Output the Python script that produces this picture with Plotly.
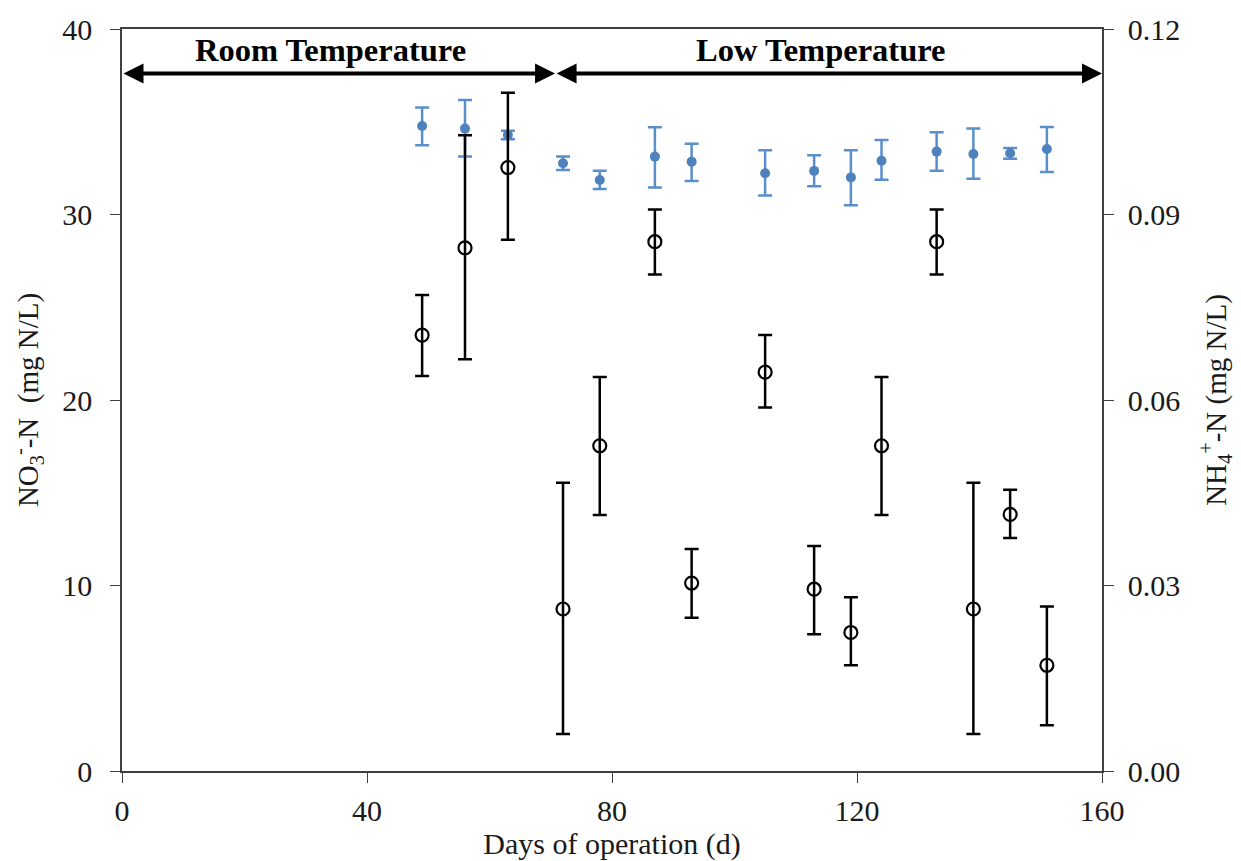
import plotly.graph_objects as go

days = [49, 56, 63, 72, 78, 87, 93, 105, 113, 119, 124, 133, 139, 145, 151]

no3 = [34.77, 34.63, 34.29, 32.76, 31.86, 33.12, 32.85, 32.22, 32.35, 32.0, 32.9, 33.39, 33.26, 33.3, 33.53]
no3_err_plus = [1.0, 1.54, 0.22, 0.36, 0.5, 1.58, 0.97, 1.24, 0.84, 1.46, 1.12, 1.04, 1.37, 0.28, 1.19]
no3_err_minus = [1.04, 1.51, 0.24, 0.36, 0.49, 1.67, 1.04, 1.19, 0.83, 1.5, 1.02, 1.03, 1.33, 0.3, 1.24]

nh4 = [0.0705, 0.0846, 0.0976, 0.0262, 0.0526, 0.0856, 0.0304, 0.0645, 0.0294, 0.0224, 0.0526, 0.0856, 0.0262, 0.0415, 0.0171]
nh4_top = [0.0770, 0.1028, 0.1097, 0.0466, 0.0637, 0.0908, 0.0359, 0.0705, 0.0364, 0.0281, 0.0637, 0.0908, 0.0466, 0.0455, 0.0266]
nh4_bot = [0.0639, 0.0666, 0.0859, 0.0060, 0.0414, 0.0803, 0.0248, 0.0588, 0.0221, 0.0171, 0.0414, 0.0803, 0.0060, 0.0377, 0.0074]

x_ticks = [0, 40, 80, 120, 160]
y1_ticks = [0, 10, 20, 30, 40]
y2_ticks = [0.0, 0.03, 0.06, 0.09, 0.12]
y2_labels = ["0.00", "0.03", "0.06", "0.09", "0.12"]

phase_labels = ["Room Temperature", "Low Temperature"]
phase_bounds = [0, 70.7, 160]
arrow_y = 37.6

FONT = "Liberation Serif"
AX = "#404040"

fig = go.Figure()

fig.add_trace(go.Scatter(
    x=days, y=no3, mode="markers", yaxis="y",
    marker=dict(symbol="circle", size=10, color="#4F81BD"),
    error_y=dict(type="data", symmetric=False, array=no3_err_plus, arrayminus=no3_err_minus,
                 color="#5B8FCC", thickness=2.5, width=7),
    showlegend=False,
))

fig.add_trace(go.Scatter(
    x=days, y=nh4, mode="markers", yaxis="y2",
    marker=dict(symbol="circle-open", size=13, color="black", line=dict(width=2.2, color="black")),
    error_y=dict(type="data", symmetric=False,
                 array=[t - v for t, v in zip(nh4_top, nh4)],
                 arrayminus=[v - b for v, b in zip(nh4, nh4_bot)],
                 color="black", thickness=2.5, width=7),
    showlegend=False,
))

# phase arrows and labels
for i, lab in enumerate(phase_labels):
    x0, x1 = phase_bounds[i], phase_bounds[i + 1]
    fig.add_annotation(
        x=x1, y=arrow_y, ax=x0, ay=arrow_y, xref="x", yref="y", axref="x", ayref="y",
        text="", showarrow=True, arrowhead=2, arrowside="end+start",
        arrowsize=1, arrowwidth=4, arrowcolor="black", standoff=0, startstandoff=0,
    )
    fig.add_annotation(
        x=(x0 + x1) / 2, y=arrow_y, xref="x", yref="y", yshift=24, xshift=-8,
        text="<b>%s</b>" % lab, showarrow=False,
        font=dict(family=FONT, size=32.5, color="black"),
    )

fig.update_layout(
    width=1241, height=861,
    margin=dict(l=122, r=139, t=29, b=90),
    paper_bgcolor="white", plot_bgcolor="white",
    font=dict(family=FONT, size=29, color="#1a1a1a"),
    xaxis=dict(
        range=[0, 160], tickvals=x_ticks, ticks="outside", ticklen=10, tickwidth=1.2, tickcolor=AX,
        showline=True, linecolor=AX, linewidth=1.5, mirror=True, showgrid=False, zeroline=False,
        title=dict(text="Days of operation (d)", standoff=2, font=dict(size=30)),
        tickfont=dict(size=30), ticklabelstandoff=2,
    ),
    yaxis=dict(
        range=[0, 40], tickvals=y1_ticks, ticks="outside", ticklen=10, tickwidth=1.2, tickcolor=AX,
        showline=True, linecolor=AX, linewidth=1.5, showgrid=False, zeroline=False,
        title=dict(text="NO<sub>3</sub><sup>-</sup>-N  (mg N/L)", standoff=15, font=dict(size=29)),
        tickfont=dict(size=30), ticklabelstandoff=12,
    ),
    yaxis2=dict(
        range=[0, 0.12], tickvals=y2_ticks, ticktext=y2_labels, overlaying="y", side="right",
        ticks="outside", ticklen=10, tickwidth=1.2, tickcolor=AX,
        showline=True, linecolor=AX, linewidth=1.5, showgrid=False, zeroline=False,
        title=dict(text="NH<sub>4</sub><sup>+</sup>-N (mg N/L)", standoff=26, font=dict(size=29)),
        tickfont=dict(size=30), ticklabelstandoff=8,
    ),
)

fig.write_html("out.html")
